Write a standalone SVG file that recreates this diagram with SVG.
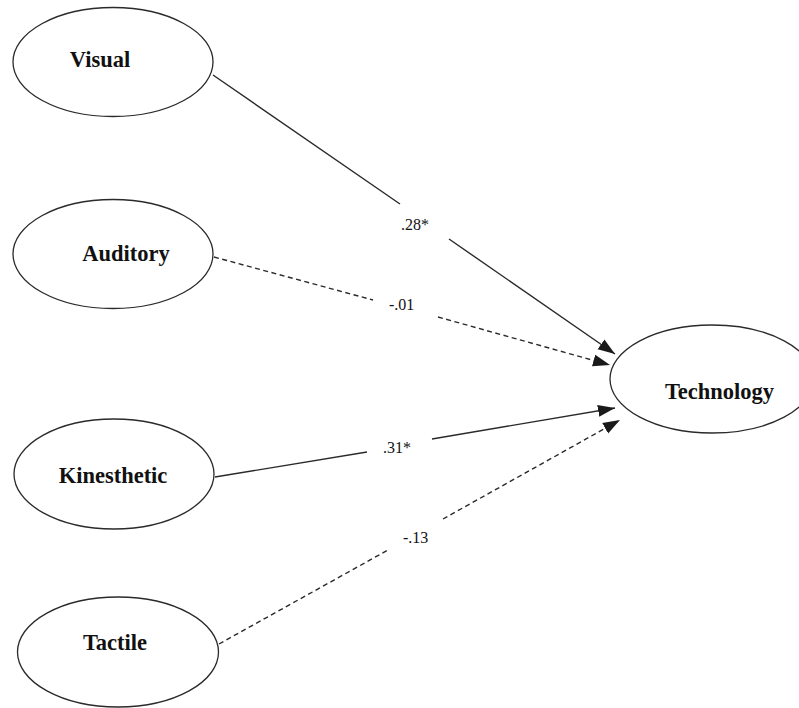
<svg xmlns="http://www.w3.org/2000/svg" width="799" height="708" viewBox="0 0 799 708">
<style>
.node ellipse{fill:#fff;stroke:#2a2a2a;stroke-width:1.3}
.node text{font-family:"Liberation Serif","Times New Roman",serif;font-weight:bold;font-size:22.5px;fill:#111}
.edge{fill:none;stroke:#2a2a2a;stroke-width:1.4}
.dash{stroke-dasharray:5 3.5}
.lbl{font-family:"Liberation Serif","Times New Roman",serif;font-size:16px;fill:#111}
</style>
<defs>
<marker id="arr" markerUnits="userSpaceOnUse" markerWidth="18" markerHeight="14" viewBox="0 0 18 14" refX="17" refY="7" orient="auto">
<path d="M0,1 L17,7 L0,13 Z" fill="#1a1a1a"/>
</marker>
</defs>
<rect width="799" height="708" fill="#fff"/>
<g id="connectors">
<path class="edge" d="M213,75 L400,204 M449,239 L615,354" marker-end="url(#arr)"/>
<path class="edge dash" d="M214,257 L373,300 M438,317 L610,365" marker-end="url(#arr)"/>
<path class="edge" d="M215,477 L367,452 M432,439 L615,408" marker-end="url(#arr)"/>
<path class="edge dash" d="M219,644 L388,550 M443,519 L620,420" marker-end="url(#arr)"/>
<text class="lbl" x="401" y="230">.28*</text>
<text class="lbl" x="389" y="310">-.01</text>
<text class="lbl" x="383" y="453">.31*</text>
<text class="lbl" x="403" y="543">-.13</text>
</g>
<g id="visual" class="node"><ellipse cx="113" cy="62" rx="100" ry="54.5"/><text x="100" y="67" text-anchor="middle">Visual</text></g>
<g id="auditory" class="node"><ellipse cx="113" cy="254" rx="100" ry="54.5"/><text x="126" y="261" text-anchor="middle">Auditory</text></g>
<g id="kinesthetic" class="node"><ellipse cx="114" cy="474" rx="100" ry="55"/><text x="113" y="483" text-anchor="middle">Kinesthetic</text></g>
<g id="tactile" class="node"><ellipse cx="118" cy="652" rx="100.5" ry="55"/><text x="115" y="650" text-anchor="middle">Tactile</text></g>
<g id="technology" class="node"><ellipse cx="712" cy="379" rx="102" ry="54"/><text x="719.5" y="399" text-anchor="middle">Technology</text></g>
</svg>
